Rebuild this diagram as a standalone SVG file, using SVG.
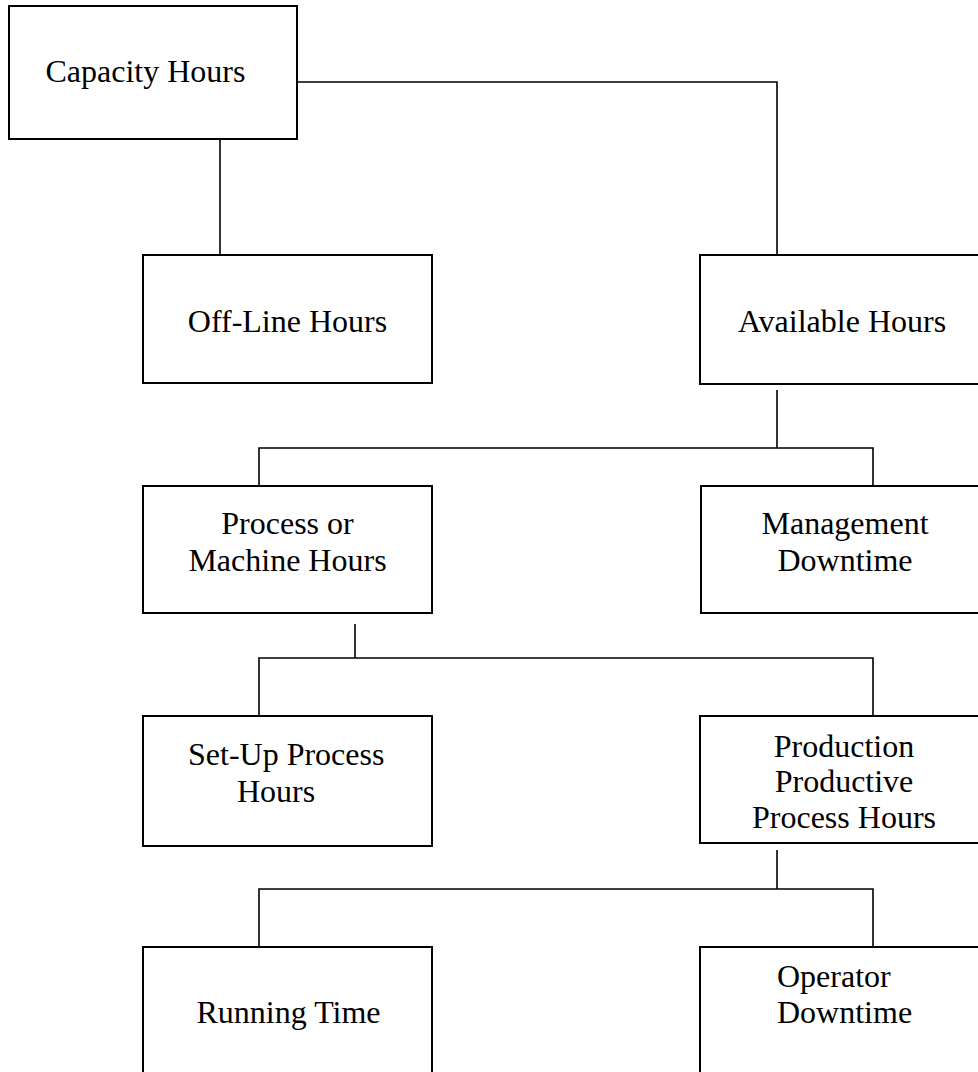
<svg xmlns="http://www.w3.org/2000/svg" width="978" height="1072" viewBox="0 0 978 1072">
<style>
.box{fill:#fff;stroke:#000;stroke-width:2}
.c{fill:none;stroke:#000;stroke-width:1.6}
text{font-family:"Liberation Serif","Times New Roman",serif;font-size:32px;fill:#000}
.m{text-anchor:middle}
</style>
<rect width="978" height="1072" fill="#fff"/>
<g id="connectors">
<polyline class="c" points="297,82 777,82 777,255"/>
<line class="c" x1="220" y1="139" x2="220" y2="255"/>
<polyline class="c" points="777,390 777,448"/>
<polyline class="c" points="259,486 259,448 873,448 873,486"/>
<line class="c" x1="355" y1="624" x2="355" y2="658"/>
<polyline class="c" points="259,716 259,658 873,658 873,716"/>
<line class="c" x1="777" y1="850" x2="777" y2="889"/>
<polyline class="c" points="259,947 259,889 873,889 873,947"/>
</g>
<g id="capacity"><rect class="box" x="9" y="6" width="288" height="133"/><text class="m" x="145.5" y="82">Capacity Hours</text></g>
<g id="offline"><rect class="box" x="143" y="255" width="289" height="128"/><text class="m" x="287.5" y="332">Off-Line Hours</text></g>
<g id="available"><rect class="box" x="700" y="255" width="290" height="129"/><text class="m" x="842" y="332">Available Hours</text></g>
<g id="process"><rect class="box" x="143" y="486" width="289" height="127"/><text class="m" x="287.5" y="534">Process or</text><text class="m" x="287.5" y="571">Machine Hours</text></g>
<g id="management"><rect class="box" x="701" y="486" width="289" height="127"/><text class="m" x="845" y="534">Management</text><text class="m" x="845" y="571">Downtime</text></g>
<g id="setup"><rect class="box" x="143" y="716" width="289" height="130"/><text x="188" y="765">Set-Up Process</text><text x="237" y="802">Hours</text></g>
<g id="production"><rect class="box" x="700" y="716" width="290" height="127"/><text class="m" x="844" y="757">Production</text><text class="m" x="844" y="792">Productive</text><text class="m" x="844" y="828">Process Hours</text></g>
<g id="running"><rect class="box" x="143" y="947" width="289" height="135"/><text class="m" x="288.5" y="1023">Running Time</text></g>
<g id="operator"><rect class="box" x="700" y="947" width="290" height="135"/><text x="777" y="987">Operator</text><text x="777" y="1023">Downtime</text></g>
</svg>
